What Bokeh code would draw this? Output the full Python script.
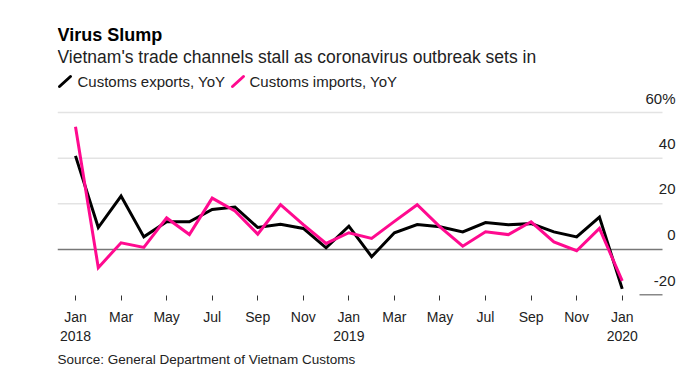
from bokeh.plotting import figure
from bokeh.models import Range1d, FixedTicker, Title
from bokeh.core.properties import value
from bokeh.embed import file_html
from bokeh.resources import INLINE

# ---- data ----
months = list(range(25))  # Jan 2018 .. Jan 2020
exports_yoy = [41, 9.6, 23.4, 5.5, 12.1, 12.1, 17.5, 18.6, 9.6, 11, 9.2, 0.7,
               10.2, -3.2, 7.3, 10.9, 9.9, 7.7, 11.8, 10.8, 11.3, 7.7, 5.5, 14.2, -17.3]
imports_yoy = [53.8, -8, 2.9, 0.9, 13.8, 6.5, 22.5, 16.9, 6.7, 19.6, 10.9, 2.6,
               7.3, 4.8, 12.3, 19.6, 9.9, 1.4, 7.7, 6.5, 12.1, 3.3, -0.6, 9.2, -13.8]
x_tick_pos = list(range(0, 25, 2))
x_tick_labels = ["Jan\n2018", "Mar", "May", "Jul", "Sep", "Nov", "Jan\n2019",
                 "Mar", "May", "Jul", "Sep", "Nov", "Jan\n2020"]
y_ticks = [60, 40, 20, 0, -20]
y_tick_labels = ["60%", "40", "20", "0", "-20"]

FONT = "Liberation Sans"
BLACK = "#000000"
PINK = "#ff0a8f"
TXT = "#222222"

# layout helpers: pixel -> data (frame spans px 57..680 horizontally, 0..295 vertically)
X0_PX, DX_PX = 75.0, 22.78
Y0_PX, DY_PX = 248.9, 2.28
def fx(px):
    return (px - X0_PX) / DX_PX
def fy(py):
    return (Y0_PX - py) / DY_PX

# Liberation Sans advance widths (em) for right-aligning the y labels
EM = {"0": 0.556, "1": 0.556, "2": 0.556, "3": 0.556, "4": 0.556, "5": 0.556,
      "6": 0.556, "7": 0.556, "8": 0.556, "9": 0.556, "%": 0.889, "-": 0.333}
def text_w(s, size):
    return sum(EM.get(c, 0.556) for c in s) * size

p = figure(width=690, height=375, output_backend="svg", toolbar_location=None,
           x_range=Range1d(fx(57), fx(680)), y_range=Range1d(fy(295), fy(0)),
           min_border_left=57, min_border_right=10, min_border_top=0,
           min_border_bottom=80)
p.outline_line_color = None
p.grid.visible = False
p.yaxis.visible = False

# gridlines
x_left, x_right = fx(57), fx(662)
grid_vals = [v for v in y_ticks if v > 0]
p.segment(x0=[x_left] * len(grid_vals), x1=[x_right] * len(grid_vals),
          y0=grid_vals, y1=grid_vals, line_color="#e3e3e3", line_width=1.5)
p.segment(x0=[x_left], x1=[x_right], y0=[0], y1=[0], line_color="#777777", line_width=1.5)
p.segment(x0=[fx(639)], x1=[x_right], y0=[y_ticks[-1]], y1=[y_ticks[-1]],
          line_color="#111111", line_width=1)

# y labels (sit above their gridlines, right edge at px 675)
YL_SIZE = 15
label_lift = 14.5 / DY_PX
p.text(x=[fx(675 - text_w(s, YL_SIZE)) for s in y_tick_labels],
       y=[v + label_lift for v in y_ticks], text=y_tick_labels,
       text_align="left", text_baseline="middle", text_font=value(FONT),
       text_font_size=f"{YL_SIZE}px", text_color=TXT)

# series
p.line(months, exports_yoy, line_color=BLACK, line_width=3, line_join="miter")
p.line(months, imports_yoy, line_color=PINK, line_width=3, line_join="miter")

# x axis
xa = p.xaxis[0]
xa.ticker = FixedTicker(ticks=x_tick_pos)
xa.major_label_overrides = {k: v for k, v in zip(x_tick_pos, x_tick_labels)}
xa.axis_line_color = None
xa.minor_tick_line_color = None
xa.major_tick_in = 0
xa.major_tick_out = 5
xa.major_tick_line_color = "#333333"
xa.major_tick_line_width = 1
xa.major_label_standoff = 8
xa.major_label_text_font = FONT
xa.major_label_text_font_size = "14px"
xa.major_label_text_color = TXT

# title, subtitle, legend
def txt(s, px, py, size, bold=False, color=TXT):
    p.text(x=[fx(px)], y=[fy(py)], text=[s], text_font=value(FONT), text_font_size=size,
           text_font_style="bold" if bold else "normal", text_color=color,
           text_baseline="middle", text_align="left")

txt("Virus Slump", 57, 34, "18px", bold=True, color="#000000")
txt("Vietnam's trade channels stall as coronavirus outbreak sets in", 57, 56, "17.5px")
txt("Customs exports, YoY", 77, 81, "15px")
txt("Customs imports, YoY", 249, 81, "15px")
for sx, col in [(59, BLACK), (232, PINK)]:
    p.segment(x0=[fx(sx)], y0=[fy(86)], x1=[fx(sx + 11)], y1=[fy(76)],
              line_color=col, line_width=3, line_cap="round")

# source
src = Title(text="Source: General Department of Vietnam Customs", align="left",
            text_font=FONT, text_font_size="13.5px", text_font_style="normal",
            text_color=TXT, standoff=7, offset=0)
p.add_layout(src, "below")

open("out.html", "w").write(file_html(p, INLINE))
